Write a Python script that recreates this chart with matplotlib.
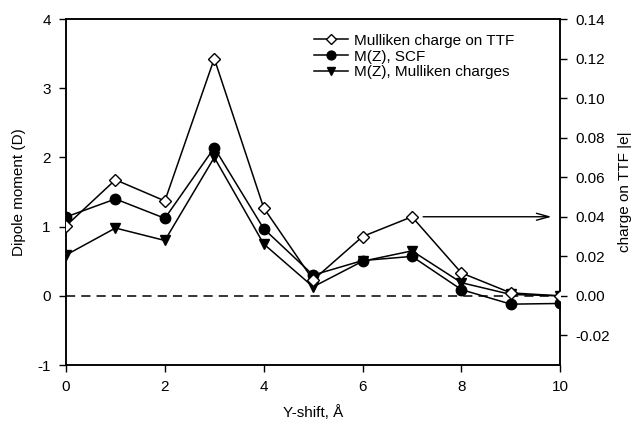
import matplotlib.pyplot as plt
import numpy as np

plt.rcParams['font.family'] = ['Liberation Sans', 'DejaVu Sans']
plt.rcParams['axes.unicode_minus'] = False

# Y-shift in Angstrom
shift = [0, 1, 2, 3, 4, 5, 6, 7, 8, 9, 10]
# dipole moments (D), left axis
m_scf = [1.14, 1.40, 1.12, 2.14, 0.97, 0.30, 0.51, 0.57, 0.09, -0.12, -0.11]
m_mull = [0.59, 0.98, 0.80, 2.00, 0.75, 0.13, 0.50, 0.65, 0.19, 0.02, 0.00]
# Mulliken charge on TTF (|e|), right axis
q_ttf = [0.0354, 0.0587, 0.048, 0.120, 0.0445, 0.008, 0.030, 0.040, 0.0116, 0.0015, 0.0]

fig = plt.figure(figsize=(6.41, 4.23), dpi=100)
ax = fig.add_axes([0.103, 0.137, 0.771, 0.818])
ax2 = ax.twinx()

lw = 1.1
ax.axhline(0, color='black', lw=1.1, ls=(0, (6, 4)), zorder=1)
l2, = ax.plot(shift, m_scf, color='black', lw=lw, marker='o', ms=7.5,
              mfc='black', mec='black', label='M(Z), SCF', zorder=3)
l3, = ax.plot(shift, m_mull, color='black', lw=lw, marker='v', ms=7.5,
              mfc='black', mec='black', label='M(Z), Mulliken charges', zorder=3)
l1, = ax2.plot(shift, q_ttf, color='black', lw=lw, marker='D', ms=6,
               mfc='white', mec='black', mew=1.0, label='Mulliken charge on TTF', zorder=4)

ax.set_xlim(0, 10)
ax.set_ylim(-1, 4)
ax2.set_ylim(-0.035, 0.14)
ax.set_xticks(np.arange(0, 11, 2))
ax.set_yticks(np.arange(-1, 5, 1))
ax2.set_yticks(np.arange(-0.02, 0.141, 0.02))
ax2.set_yticklabels([f"{v:.2f}" for v in np.arange(-0.02, 0.141, 0.02)])

for a in (ax, ax2):
    a.tick_params(direction='out', length=5, width=1, pad=6, labelsize=11, colors='black')
    for s in a.spines.values():
        s.set_linewidth(1.1)

ax.set_xlabel('Y-shift, Å', fontsize=11, labelpad=8)
ax.set_ylabel('Dipole moment (D)', fontsize=11, labelpad=8)
ax2.set_ylabel('charge on TTF |e|', fontsize=11, labelpad=6)

ax2.annotate('', xy=(9.88, 0.04), xytext=(7.17, 0.04),
             arrowprops=dict(arrowstyle='->,head_length=0.9,head_width=0.25',
                             color='black', lw=1.0))

ax.legend(handles=[l1, l2, l3], loc='upper left', bbox_to_anchor=(0.49, 0.975),
          frameon=False, fontsize=11, handlelength=2.2, handletextpad=0.4,
          labelspacing=0.12, markerscale=0.85, borderaxespad=0)

fig.savefig('out.png', dpi=100)
